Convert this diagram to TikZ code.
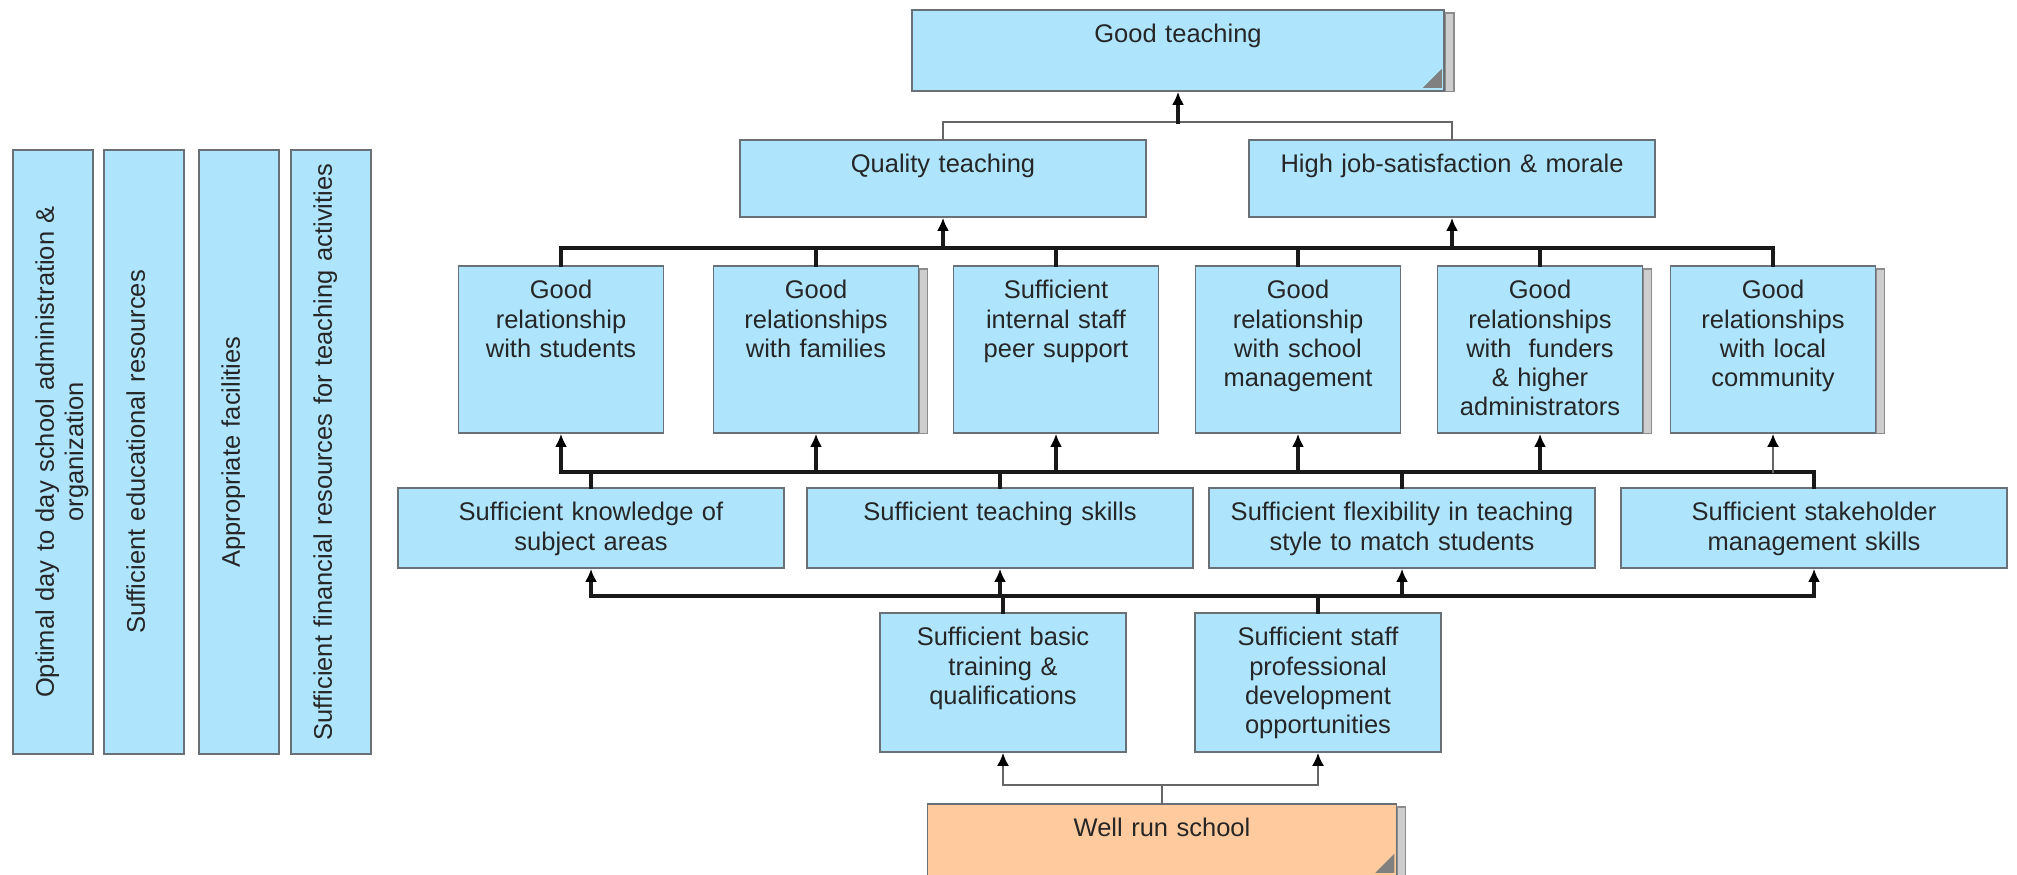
\documentclass[tikz,border=0pt]{standalone}
\usepackage{fontspec}
\setmainfont{Liberation Sans}
\usetikzlibrary{arrows.meta,backgrounds}
\definecolor{cardblue}{RGB}{174,229,253}
\definecolor{cardorange}{RGB}{255,203,158}
\definecolor{cardedge}{RGB}{105,112,118}
\definecolor{pagegray}{RGB}{205,205,205}
\definecolor{foldgray}{RGB}{128,128,128}

\begin{document}
\begin{tikzpicture}[x=0.5pt,y=-0.5pt,>={Latex[length=6.5pt,width=6pt,black]},
  every node/.style={font=\fontsize{12.75pt}{14.6pt}\selectfont,text=black!85},
  card/.style 2 args={draw=cardedge,line width=0.9pt,fill=cardblue,align=center,anchor=north,
    inner xsep=3pt,inner ysep=6.5pt,text height=10pt,
    minimum width=#1,text width=#1-6pt,minimum height=#2,text depth=#2-23pt},
  vcard/.style 2 args={card={#1}{#2},rotate=90,text height=14pt,text depth=#2-27pt},
  link/.style={line width=1.6pt,black!90,line cap=rect},
  faint/.style={line width=1.1pt,black!60,line cap=rect},
  page/.style={draw=black!45,fill=pagegray,line width=0.6pt},
  fold/.style={fill=foldgray}]
\useasboundingbox (0,0) rectangle (2017,874);

% outcomes
\node[card={266pt}{40.5pt}] (good) at (1178,9) {Good teaching};
\node[card={203pt}{38.5pt}] (qual) at (943,139) {Quality teaching};
\node[card={203pt}{38.5pt}] (morale) at (1452,139) {High job-satisfaction \& morale};

% relationships
\node[card={102.5pt}{83.5pt}] (rstud) at (561,265) {Good\\relationship\\with students};
\node[card={102.5pt}{83.5pt}] (rfam) at (816,265) {Good\\relationships\\with families};
\node[card={102.5pt}{83.5pt}] (rpeer) at (1056,265) {Sufficient\\internal staff\\peer support};
\node[card={102.5pt}{83.5pt}] (rmgmt) at (1298,265) {Good\\relationship\\with school\\management};
\node[card={102.5pt}{83.5pt}] (rfund) at (1540,265) {Good\\relationships\\with\ \ funders\\\& higher\\administrators};
\node[card={102.5pt}{83.5pt}] (rcomm) at (1773,265) {Good\\relationships\\with local\\community};

% skills
\node[card={193pt}{40pt}] (know) at (591,487) {Sufficient knowledge of\\subject areas};
\node[card={193pt}{40pt}] (skill) at (1000,487) {Sufficient teaching skills};
\node[card={193pt}{40pt}] (flex) at (1402,487) {Sufficient flexibility in teaching\\style to match students};
\node[card={193pt}{40pt}] (stake) at (1814,487) {Sufficient stakeholder\\management skills};

% training
\node[card={123pt}{69.5pt}] (basic) at (1003,612) {Sufficient basic\\training \&\\qualifications};
\node[card={123pt}{69.5pt}] (staffpd) at (1318,612) {Sufficient staff\\professional\\development\\opportunities};
\node[card={234.5pt}{36pt},fill=cardorange] (school) at (1162,803) {Well run school};

% enablers
\node[vcard={302pt}{40pt}] (admin) at (12,452) {Optimal day to day school administration \&\\organization};
\node[vcard={302pt}{40pt}] (edres) at (103,452) {Sufficient educational resources};
\node[vcard={302pt}{40pt}] (facil) at (198,452) {Appropriate facilities};
\node[vcard={302pt}{40pt}] (finres) at (290,452) {Sufficient financial resources for teaching activities};

% stacked pages and folded corners
\begin{scope}[on background layer]
\draw[page] ([shift={(0,4)}]good.north east) rectangle ([shift={(9,0)}]good.south east);
\draw[page] ([shift={(0,4)}]rfam.north east) rectangle ([shift={(8,0)}]rfam.south east);
\draw[page] ([shift={(0,4)}]rfund.north east) rectangle ([shift={(8,0)}]rfund.south east);
\draw[page] ([shift={(0,4)}]rcomm.north east) rectangle ([shift={(8,0)}]rcomm.south east);
\draw[page] ([shift={(0,4)}]school.north east) rectangle ([shift={(8,0)}]school.south east);
\end{scope}
\fill[fold] ([shift={(-22,-4)}]good.south east) -- ([shift={(-3,-4)}]good.south east) -- ([shift={(-3,-23)}]good.south east) -- cycle;
\fill[fold] ([shift={(-22,-4)}]school.south east) -- ([shift={(-3,-4)}]school.south east) -- ([shift={(-3,-23)}]school.south east) -- cycle;

% buses
\coordinate (bus1) at (0,122);
\coordinate (bus2) at (0,248);
\coordinate (bus3) at (0,472);
\coordinate (bus4) at (0,596);
\coordinate (bus5) at (0,785);

\draw[faint] (qual.north) |- (good.south |- bus1);
\draw[faint] (morale.north) |- (good.south |- bus1);
\draw[link,->] (good.south |- bus1) -- (good.south);

\draw[link] (rstud.north) |- (rcomm.north |- bus2) -- (rcomm.north);
\draw[link] (rfam.north) -- (rfam.north |- bus2);
\draw[link] (rpeer.north) -- (rpeer.north |- bus2);
\draw[link] (rmgmt.north) -- (rmgmt.north |- bus2);
\draw[link] (rfund.north) -- (rfund.north |- bus2);
\draw[link,->] (qual.south |- bus2) -- (qual.south);
\draw[link,->] (morale.south |- bus2) -- (morale.south);

\draw[link] (stake.north) |- (rstud.south |- bus3);
\draw[link] (know.north) -- (know.north |- bus3);
\draw[link] (skill.north) -- (skill.north |- bus3);
\draw[link] (flex.north) -- (flex.north |- bus3);
\draw[link,->] (rstud.south |- bus3) -- (rstud.south);
\draw[link,->] (rfam.south |- bus3) -- (rfam.south);
\draw[link,->] (rpeer.south |- bus3) -- (rpeer.south);
\draw[link,->] (rmgmt.south |- bus3) -- (rmgmt.south);
\draw[link,->] (rfund.south |- bus3) -- (rfund.south);
\draw[faint,->] (rcomm.south |- bus3) -- (rcomm.south);

\draw[link] (know.south |- bus4) -- (stake.south |- bus4);
\draw[link] (basic.north) -- (basic.north |- bus4);
\draw[link] (staffpd.north) -- (staffpd.north |- bus4);
\draw[link,->] (know.south |- bus4) -- (know.south);
\draw[link,->] (skill.south |- bus4) -- (skill.south);
\draw[link,->] (flex.south |- bus4) -- (flex.south);
\draw[link,->] (stake.south |- bus4) -- (stake.south);

\draw[faint,->] (school.north) -- (school.north |- bus5) -| (basic.south);
\draw[faint,->] (school.north) -- (school.north |- bus5) -| (staffpd.south);
\end{tikzpicture}
\end{document}
